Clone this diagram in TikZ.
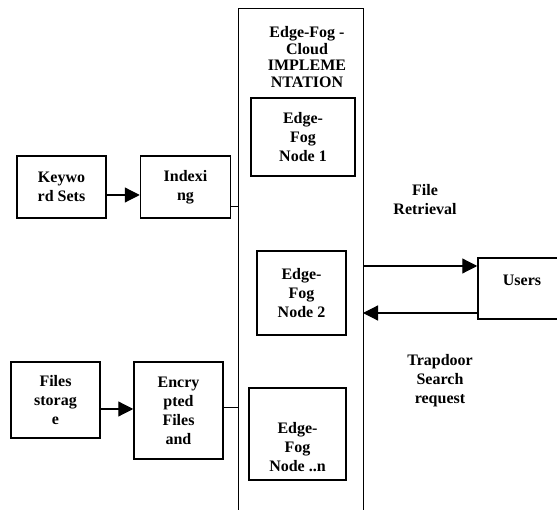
\documentclass[tikz,border=0pt]{standalone}
\usepackage{fontspec}
\setmainfont{Liberation Serif}
\usepackage{tikz}
\usetikzlibrary{arrows.meta,positioning}

\begin{document}
\begin{tikzpicture}[
      x=1pt, y=-1pt,
      font=\bfseries\fontsize{16}{19}\selectfont,
      box/.style={rectangle, draw=black, line width=1.5pt, align=center, inner sep=0pt},
      txt/.style={align=center, inner sep=0pt},
      line/.style={draw=black, line width=1pt},
      arrow/.style={-{Triangle[length=15pt,width=15pt]}, line width=1.2pt}
    ]
    \clip (0,0) rectangle (557,510);
    % container
    \draw[line] (238,512) |- (363,9) -- (363,512);
    \node[txt, font=\bfseries\fontsize{16}{16.7}\selectfont] (title) at (307,57) {Edge-Fog -\\Cloud\\IMPLEME\\NTATION};
    \node[box, minimum width=104pt, minimum height=78pt] (fog1) at (303,137) {Edge-\\Fog\\Node 1};
    \node[box, minimum width=89pt, minimum height=84pt] (fog2) at (301.5,293) {Edge-\\Fog\\Node 2};
    \node[box, minimum width=97pt, minimum height=92pt,
          label={[txt, yshift=-13pt]center:{Edge-\\Fog\\Node ..n}}] (fogn) at (297.5,434) {};

    \node[box, minimum width=89pt, minimum height=62pt] (keyword) at (61.5,187) {Keywo\\rd Sets};
    \node[box, minimum width=90pt, minimum height=62pt, right=33pt of keyword] (indexing) {Indexi\\ng};
    \node[box, minimum width=89pt, minimum height=76pt] (files) at (55.5,400) {Files\\storag\\e};
    \node[box, minimum width=89pt, minimum height=97pt] (encrypted) at (178.5,410.5) {Encry\\pted\\Files\\and};

    \node[box, minimum width=88pt, minimum height=61pt,
          label={[txt, yshift=8pt]center:Users}] (users) at (522,288.5) {};
    \node[txt] (retrieval) at (425,200) {File\\Retrieval};
    \node[txt] (trapdoor) at (440,381) {Trapdoor\\Search\\request};

    \coordinate (ak) at (0,195);
    \coordinate (af) at (0,409);
    \coordinate (cl1) at (238,207);
    \coordinate (cl2) at (238,408);
    \coordinate (cr1) at (363,266);
    \coordinate (cr2) at (363,313);

    \draw[arrow] (keyword.east |- ak) -- (indexing.west |- ak);
    \draw[arrow] (files.east |- af) -- (encrypted.west |- af);
    \draw[line] (cl1 -| indexing.east) -- (cl1);
    \draw[line] (cl2 -| encrypted.east) -- (cl2);
    \draw[arrow] (cr1) -- (cr1 -| users.west);
    \draw[arrow] (cr2 -| users.west) -- (cr2);
  \end{tikzpicture}
\end{document}
